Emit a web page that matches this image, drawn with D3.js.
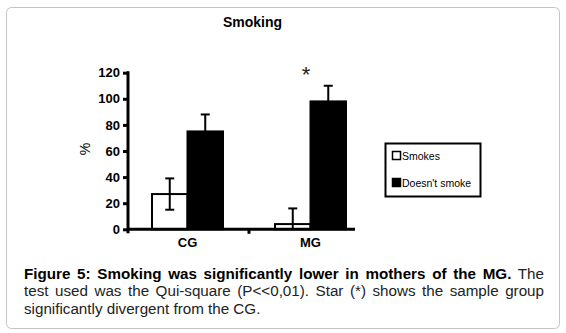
<!DOCTYPE html>
<html>
<head>
<meta charset="utf-8">
<script src="https://cdn.jsdelivr.net/npm/d3@7"></script>
<style>
  body { margin: 0; background: #fff; }
  svg { font-family: "Liberation Sans", Arial, sans-serif; }
</style>
</head>
<body>
<div id="chart"></div>
<script>
// values
const groups = ["CG", "MG"]
const series = ["Smokes", "Doesn't smoke"]
const smokes = [27, 4]
const smokesErr = [12, 12]
const noSmoke = [75, 98]
const noSmokeErr = [13, 12]
const yTicks = [0, 20, 40, 60, 80, 100, 120]
const captionLines = [
    [["Figure 5: Smoking was significantly lower in mothers of the MG.", true], [" The", false]],
    [["test used was the Qui-square (P<<0,01). Star (*) shows the sample group", false]],
    [["significantly divergent from the CG.", false]]
]

const W = 566, H = 333

const svg = d3.select("#chart")
  .append("svg")
    .attr("width", W)
    .attr("height", H)

// outer frame
svg.append("rect")
    .attr("x", 6.5).attr("y", 7.5)
    .attr("width", 553).attr("height", 321)
    .attr("rx", 5)
    .attr("fill", "none")
    .attr("stroke", "#c4c4c4")
    .attr("stroke-width", 1)

const yTop = 72.7, yBottom = 229.3
const axisLeftX = 128, axisRightX = 355

const scaleY = d3.scaleLinear()
    .domain([0, 120])
    .range([yBottom, yTop])

const scaleX = d3.scaleBand()
    .domain(groups)
    .range([126, 372])

const scaleSub = d3.scaleBand()
    .domain(series)
    .range([-35.5, 35.5])

const rows = groups.map((g, i) => [
    {group: g, key: series[0], value: smokes[i], err: smokesErr[i]},
    {group: g, key: series[1], value: noSmoke[i], err: noSmokeErr[i]}
]).flat()

const fillOf = (k) => k === series[0] ? "#fff" : "#000"
const centerOf = (d) => scaleX(d.group) + scaleX.bandwidth() / 2 + scaleSub(d.key) + scaleSub.bandwidth() / 2

// title
svg.append("text")
    .attr("x", 252.5).attr("y", 27)
    .attr("text-anchor", "middle")
    .attr("font-weight", "bold")
    .attr("font-size", 14)
    .text("Smoking")

// error bars (drawn first so black bars cover the lower half)
const eb = svg.append("g")
rows.forEach(d => {
    const cx = centerOf(d)
    const hi = scaleY(d.value + d.err)
    const lo = scaleY(Math.max(0, d.value - d.err))
    eb.append("line")
        .attr("x1", cx).attr("x2", cx)
        .attr("y1", hi).attr("y2", lo)
        .attr("stroke", "#000").attr("stroke-width", 2)
    eb.append("line")
        .attr("x1", cx - 4.5).attr("x2", cx + 4.5)
        .attr("y1", hi).attr("y2", hi)
        .attr("stroke", "#000").attr("stroke-width", 2)
    if (d.value - d.err > 0) {
        eb.append("line")
            .attr("x1", cx - 4.5).attr("x2", cx + 4.5)
            .attr("y1", lo).attr("y2", lo)
            .attr("stroke", "#000").attr("stroke-width", 2)
    }
})

// bars
svg.append("g")
  .selectAll("rect")
  .data(rows)
  .join("rect")
    .attr("x", d => scaleX(d.group) + scaleX.bandwidth() / 2 + scaleSub(d.key))
    .attr("width", scaleSub.bandwidth())
    .attr("y", d => scaleY(d.value))
    .attr("height", d => scaleY(0) - scaleY(d.value))
    .attr("fill", d => fillOf(d.key))
    .attr("fill-opacity", d => d.key === series[0] ? 0 : 1)
    .attr("stroke", "#000")
    .attr("stroke-width", 2)

// y axis
const yAxis = svg.append("g")
    .attr("transform", `translate(${axisLeftX},0)`)
    .call(d3.axisLeft(scaleY).tickValues(yTicks).tickSize(5).tickPadding(3))
yAxis.select(".domain").remove()
yAxis.selectAll("line").attr("stroke", "#000").attr("stroke-width", 3)
yAxis.selectAll("text")
    .attr("font-size", 13)
    .attr("font-weight", "bold")
    .attr("font-family", "Liberation Sans, Arial, sans-serif")
    .attr("fill", "#000")
svg.append("line")
    .attr("x1", axisLeftX).attr("x2", axisLeftX)
    .attr("y1", yTop - 1.5).attr("y2", yBottom + 4)
    .attr("stroke", "#000").attr("stroke-width", 3)

// x axis
svg.append("line")
    .attr("x1", axisLeftX).attr("x2", axisRightX)
    .attr("y1", yBottom).attr("y2", yBottom)
    .attr("stroke", "#000").attr("stroke-width", 3)
svg.append("line")
    .attr("x1", scaleX("MG")).attr("x2", scaleX("MG"))
    .attr("y1", yBottom).attr("y2", yBottom + 4.5)
    .attr("stroke", "#000").attr("stroke-width", 3)
svg.append("g")
  .selectAll("text")
  .data(groups)
  .join("text")
    .attr("x", d => scaleX(d) + scaleX.bandwidth() / 2)
    .attr("y", 246.5)
    .attr("text-anchor", "middle")
    .attr("font-size", 13)
    .attr("font-weight", "bold")
    .text(d => d)

// y label
svg.append("text")
    .attr("transform", "translate(90,149) rotate(-90)")
    .attr("text-anchor", "middle")
    .attr("font-size", 14)
    .text("%")

// significance star
svg.append("text")
    .attr("x", scaleX("MG") + scaleX.bandwidth() / 2 - 4.5)
    .attr("y", 82)
    .attr("text-anchor", "middle")
    .attr("font-size", 22)
    .attr("fill", "#222")
    .text("*")

// legend
const legend = svg.append("g")
legend.append("rect")
    .attr("x", 385.5).attr("y", 143.5)
    .attr("width", 95).attr("height", 53)
    .attr("fill", "none").attr("stroke", "#000").attr("stroke-width", 2)
series.forEach((s, i) => {
    const y = 151.5 + i * 27
    legend.append("rect")
        .attr("x", 392.5).attr("y", y)
        .attr("width", 8).attr("height", 8)
        .attr("fill", fillOf(s))
        .attr("stroke", "#000").attr("stroke-width", 1.5)
    legend.append("text")
        .attr("x", 402).attr("y", y + 8)
        .attr("font-size", 10.5)
        .text(s)
})

// caption, justified by widening the word gaps
const capWidth = 520
captionLines.forEach((parts, i) => {
    const line = svg.append("text")
        .attr("x", 24).attr("y", 278.5 + i * 17.8)
        .attr("font-size", 15.2)
        .attr("fill", "#222")
    parts.forEach(([t, b]) => {
        line.append("tspan")
            .attr("font-weight", b ? "bold" : "normal")
            .attr("fill", b ? "#000" : "#222")
            .text(t)
    })
    if (i < captionLines.length - 1) {
        const natural = line.node().getComputedTextLength()
        const gaps = parts.map(p => p[0]).join("").split(" ").length - 1
        line.attr("word-spacing", Math.max(0, (capWidth - natural) / gaps))
    }
})
</script>
</body>
</html>
